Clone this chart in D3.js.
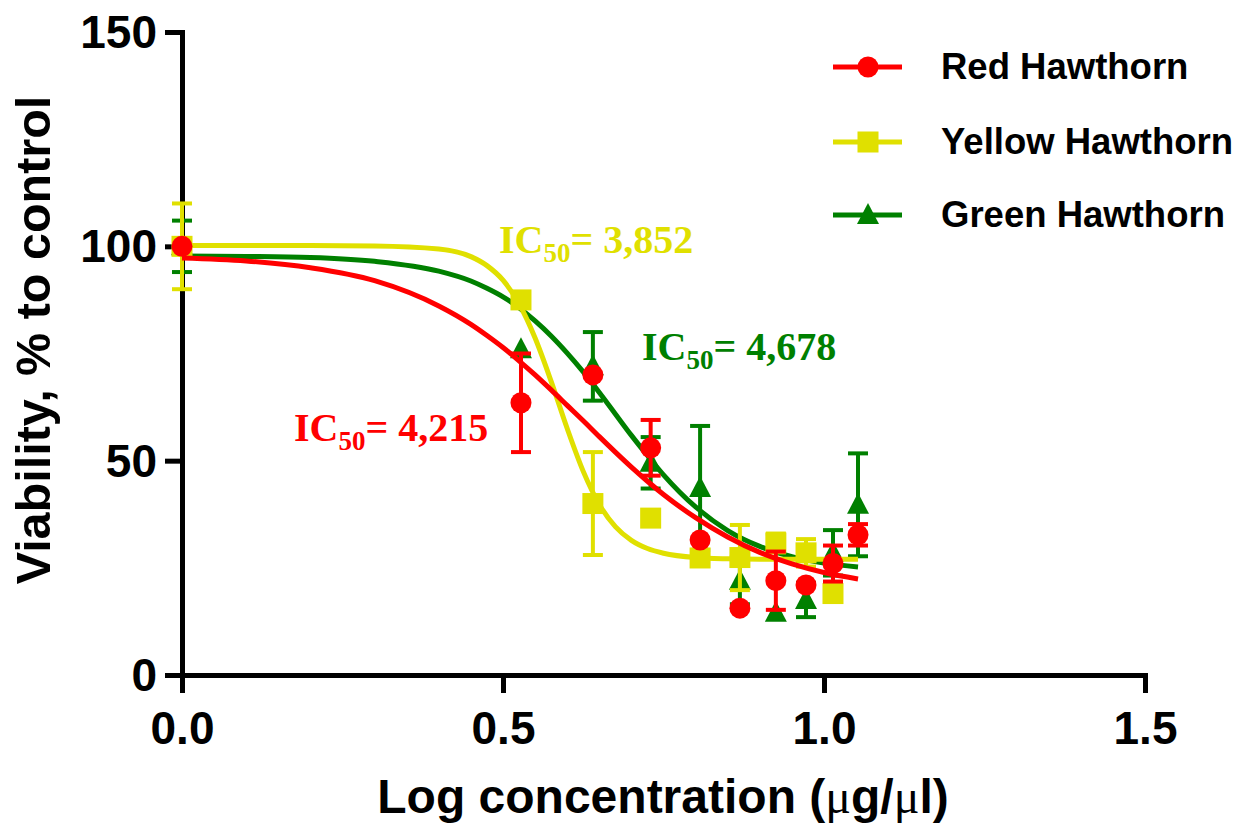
<!DOCTYPE html>
<html>
<head>
<meta charset="utf-8">
<script src="https://cdn.jsdelivr.net/npm/d3@7"></script>
<style>
  html, body { margin: 0; padding: 0; background: #fff; }
  svg { display: block; }
</style>
</head>
<body>
<svg id="chart" width="1250" height="830"></svg>
<script>
// ---- Data ----
const logConc = [0, 0.528, 0.640, 0.730, 0.807, 0.869, 0.925, 0.972, 1.014, 1.053];

const redMean   = [100, 63.5, 70, 53, 31.5, 15.6, 22, 21, 26, 32.7];
const redErr    = [0, 11.5, 0, 6.5, 0, 0, 6.8, 0, 4.2, 2.5];
const yellowMean = [100, 87.5, 40, 36.6, 27.3, 27.4, 30.8, 28.5, 19, null];
const yellowErr  = [10, 0, 12, 0, 0, 7.6, 2.2, 3.2, 0, null];
const greenMean = [100, 76, 72, 49.5, 43.6, 22, 14.5, 17.5, 28.5, 39.7];
const greenErr  = [6, 0, 8, 6, 14.5, 5.5, 0, 4, 5.3, 12];

// fitted curves
const curveX      = [0, 0.1, 0.2, 0.3, 0.4, 0.45, 0.475, 0.5, 0.525, 0.55, 0.575, 0.6, 0.625, 0.65, 0.675, 0.7, 0.725, 0.75, 0.8, 0.85, 0.9, 0.95, 1.0, 1.053];
const redCurve    = [97.3, 96.6, 95.0, 92.0, 86.1, 81.8, 79.2, 76.4, 73.3, 70.0, 66.5, 62.9, 59.3, 55.6, 52.0, 48.5, 45.2, 42.1, 36.7, 32.2, 28.6, 25.9, 23.9, 22.4];
const yellowCurve = [100.2, 100.2, 100.2, 100.1, 99.4, 97.6, 95.5, 92.1, 86.6, 78.6, 68.5, 57.5, 47.5, 39.8, 34.6, 31.4, 29.5, 28.4, 27.4, 27.1, 27.0, 27.0, 27.0, 27.0];
const greenCurve  = [97.75, 97.65, 97.4, 96.5, 94.2, 91.9, 90.2, 88.2, 85.7, 82.6, 79.1, 75.1, 70.7, 65.9, 60.9, 55.9, 51.2, 46.7, 39.2, 33.7, 30.0, 27.6, 26.1, 25.2];

const seriesNames = ["Red Hawthorn", "Yellow Hawthorn", "Green Hawthorn"];
const seriesColors = ["#ff0000", "#e0e000", "#008000"];
const seriesShapes = ["circle", "square", "triangle"];
const icLabels = ["4,215", "3,852", "4,678"];

const xTicks = [0, 0.5, 1.0, 1.5];
const yTicks = [0, 50, 100, 150];
const xTitle = "Log concentration (";
const yTitle = "Viability, % to control";

// ---- Build ----
const svg = d3.select("#chart");
const x = d3.scaleLinear().domain([0, 1.5]).range([182, 1145]);
const y = d3.scaleLinear().domain([0, 150]).range([675, 32]);

const sans = "'Liberation Sans', Arial, sans-serif";
const serif = "'Liberation Serif', 'Times New Roman', serif";

// axes
const yAxis = svg.append("g").attr("transform", "translate(182,0)")
  .call(d3.axisLeft(y).tickValues(yTicks).tickFormat(d3.format("d")).tickSize(17).tickSizeOuter(0).tickPadding(8));
const xAxis = svg.append("g").attr("transform", "translate(0,675)")
  .call(d3.axisBottom(x).tickValues(xTicks).tickFormat(d3.format(".1f")).tickSize(18).tickSizeOuter(0).tickPadding(18));
[xAxis, yAxis].forEach(a => {
  a.select(".domain").attr("stroke", "#000").attr("stroke-width", 5).attr("stroke-linecap", "square");
  a.selectAll(".tick line").attr("stroke", "#000").attr("stroke-width", 5);
  a.selectAll(".tick text").attr("fill", "#000").style("font-family", sans)
    .style("font-weight", "bold").style("font-size", "46px");
});
yAxis.selectAll(".tick text").attr("dy", "0.34em");
xAxis.selectAll(".tick text").attr("dy", "0.71em");

// titles
const xt = svg.append("text").attr("x", 663).attr("y", 813).attr("text-anchor", "middle")
  .style("font-family", sans).style("font-weight", "bold").style("font-size", "48px").attr("fill", "#000");
xt.append("tspan").text(xTitle);
xt.append("tspan").style("font-family", serif).style("font-weight", "normal").text("\u03bc");
xt.append("tspan").text("g/");
xt.append("tspan").style("font-family", serif).style("font-weight", "normal").text("\u03bc");
xt.append("tspan").text("l)");

svg.append("text").attr("transform", "translate(50,340) rotate(-90)").attr("text-anchor", "middle")
  .style("font-family", sans).style("font-weight", "bold").style("font-size", "48.5px").attr("fill", "#000")
  .text(yTitle);

// series
const means = [redMean, yellowMean, greenMean];
const errs = [redErr, yellowErr, greenErr];
const curves = [redCurve, yellowCurve, greenCurve];

function marker(g, shape, cx, cy, color) {
  if (shape === "circle") {
    g.append("circle").attr("cx", cx).attr("cy", cy).attr("r", 10.5).attr("fill", color);
  } else if (shape === "square") {
    g.append("rect").attr("x", cx - 10.5).attr("y", cy - 10.5).attr("width", 21).attr("height", 21).attr("fill", color);
  } else {
    g.append("path").attr("d", `M${cx},${cy - 12}L${cx + 11},${cy + 9}L${cx - 11},${cy + 9}Z`).attr("fill", color);
  }
}

const line = d3.line().defined(d => d[1] != null).x(d => x(d[0])).y(d => y(d[1])).curve(d3.curveMonotoneX);

// draw order: green, yellow, red (red on top)
[2, 1, 0].forEach(i => {
  const g = svg.append("g");
  const color = seriesColors[i];
  g.append("path").datum(curveX.map((cx, k) => [cx, curves[i][k]]))
    .attr("d", line).attr("fill", "none").attr("stroke", color).attr("stroke-width", 5);
  logConc.forEach((lx, k) => {
    const m = means[i][k];
    if (m == null) return;
    const e = errs[i][k];
    const px = x(lx);
    if (e > 0) {
      g.append("line").attr("x1", px).attr("x2", px).attr("y1", y(m + e)).attr("y2", y(m - e))
        .attr("stroke", color).attr("stroke-width", 4);
      [m + e, m - e].forEach(v => {
        g.append("line").attr("x1", px - 10).attr("x2", px + 10).attr("y1", y(v)).attr("y2", y(v))
          .attr("stroke", color).attr("stroke-width", 4);
      });
    }
    marker(g, seriesShapes[i], px, y(m), color);
  });
});

// IC50 annotations
const icPos = [[294, 441], [499, 253], [642, 360]];
icLabels.forEach((lab, i) => {
  const t = svg.append("text").attr("x", icPos[i][0]).attr("y", icPos[i][1])
    .style("font-family", serif).style("font-weight", "bold").style("font-size", "40px")
    .attr("fill", seriesColors[i]);
  t.append("tspan").text("IC");
  t.append("tspan").attr("dy", 9).style("font-size", "27px").text("50");
  t.append("tspan").attr("dy", -9).text("= " + lab);
});

// legend
const legY = [67, 142, 215];
seriesNames.forEach((name, i) => {
  const g = svg.append("g");
  g.append("line").attr("x1", 833).attr("x2", 902).attr("y1", legY[i]).attr("y2", legY[i])
    .attr("stroke", seriesColors[i]).attr("stroke-width", 5);
  marker(g, seriesShapes[i], 868, legY[i], seriesColors[i]);
  g.append("text").attr("x", 941).attr("y", legY[i] + 12)
    .style("font-family", sans).style("font-weight", "bold").style("font-size", "36.5px")
    .attr("fill", "#000").text(name);
});
</script>
</body>
</html>
